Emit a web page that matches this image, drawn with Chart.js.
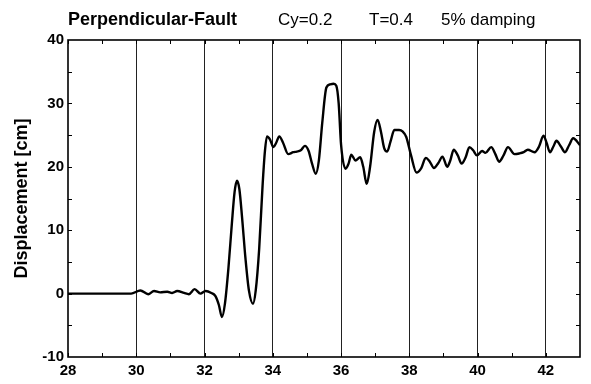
<!DOCTYPE html>
<html>
<head>
<meta charset="utf-8">
<script src="https://cdn.jsdelivr.net/npm/chart.js@4.4.0/dist/chart.umd.min.js"></script>
<style>
  html, body { margin: 0; padding: 0; background: #fff; }
  #wrap { width: 591px; height: 384px; }
</style>
</head>
<body>
<div id="wrap"><canvas id="chart" width="591" height="384"></canvas></div>
<script>
// time [s] and displacement [cm]
const timeSec = [
  28, 29, 29.85, 30.12, 30.35, 30.52, 30.7, 30.91, 31.05, 31.2,
  31.4, 31.54, 31.71, 31.88, 32.03, 32.2, 32.32, 32.42, 32.51, 32.6,
  32.7, 32.8, 32.88, 32.95, 33.02, 33.1, 33.2, 33.3, 33.42, 33.5,
  33.6, 33.7, 33.77, 33.83, 33.92, 34.02, 34.1, 34.19, 34.3, 34.45,
  34.6, 34.7, 34.82, 34.94, 35.05, 35.15, 35.26, 35.35, 35.45, 35.57,
  35.68, 35.78, 35.86, 35.93, 36.0, 36.13, 36.22, 36.3, 36.42, 36.56,
  36.65, 36.75, 36.85, 36.97, 37.07, 37.17, 37.26, 37.35, 37.45, 37.56,
  37.7, 37.8, 37.91, 38.05, 38.21, 38.35, 38.48, 38.6, 38.72, 38.85,
  38.97, 39.11, 39.2, 39.3, 39.42, 39.53, 39.65, 39.76, 39.87, 39.98,
  40.13, 40.23, 40.4, 40.52, 40.63, 40.76, 40.89, 41.08, 41.22, 41.35,
  41.47, 41.67, 41.8, 41.93, 42.02, 42.12, 42.22, 42.31, 42.44, 42.56,
  42.68, 42.8, 43.0
];
const displacementCm = [
  0, 0, 0, 0.5, -0.1, 0.4, 0.2, 0.3, 0.1, 0.4,
  0.1, -0.1, 0.7, 0, 0.4, 0.1, -0.4, -1.8, -3.7, -1.5,
  4, 11, 16, 17.8, 16.5, 12, 5.5, 0.5, -1.6, 0.5,
  7, 17, 22.5, 24.8, 24.3, 23.1, 23.8, 24.8, 23.8, 22.0,
  22.3, 22.4, 22.6, 23.3, 22.5, 20.5, 18.9, 21, 27, 32.5,
  33, 33.1, 32.8, 30, 23.5, 19.7, 20.5, 21.9, 21, 21.5,
  20, 17.3, 20, 25.5, 27.4, 25.5, 23, 22.4, 24, 25.8,
  25.8, 25.6, 24.7, 21.8, 19.1, 19.8, 21.4, 20.8, 19.8, 20.6,
  21.6, 20, 21, 22.7, 21.8, 20.5, 21.5, 23.1, 22.6, 21.8,
  22.5, 22.2, 23.1, 22, 20.8, 21.8, 23.1, 22, 22.1, 22.3,
  22.7, 22.3, 23.2, 24.9, 23.8, 22.3, 23.2, 24.1, 23.2, 22.3,
  23.4, 24.5, 23.4
];

const xTickValues = [28, 30, 32, 34, 36, 38, 40, 42];
const xTickLabels = ['28', '30', '32', '34', '36', '38', '40', '42'];
const xMinorTicks = [29, 31, 33, 35, 37, 39, 41];
const yMinorTicks = [-5, 5, 15, 25, 35];
const yLabel = 'Displacement [cm]';
const headerTexts = ['Perpendicular-Fault', 'Cy=0.2', 'T=0.4', '5% damping'];

const FONT = '"Liberation Sans", Arial, Helvetica, sans-serif';

// header line + frame + inward minor ticks
const decorations = {
  id: 'decorations',
  afterDraw(chart) {
    const ctx = chart.ctx;
    const area = chart.chartArea;
    const xs = chart.scales.x;
    const ys = chart.scales.y;
    ctx.save();

    ctx.fillStyle = '#000';
    ctx.textBaseline = 'alphabetic';
    ctx.textAlign = 'left';
    const headerX = [68, 278, 369, 441];
    headerTexts.forEach((t, i) => {
      ctx.font = (i === 0 ? 'bold 18px ' : '17px ') + FONT;
      ctx.fillText(t, headerX[i], 25);
    });

    ctx.strokeStyle = '#000';
    ctx.lineWidth = 1;
    ctx.beginPath();
    xMinorTicks.concat(xTickValues).forEach(v => {
      const px = Math.round(xs.getPixelForValue(v)) + 0.5;
      ctx.moveTo(px, area.bottom);
      ctx.lineTo(px, area.bottom - 4);
      ctx.moveTo(px, area.top);
      ctx.lineTo(px, area.top + 4);
    });
    yMinorTicks.concat([0, 10, 20, 30]).forEach(v => {
      const py = Math.round(ys.getPixelForValue(v)) + 0.5;
      ctx.moveTo(area.left, py);
      ctx.lineTo(area.left + 4, py);
      ctx.moveTo(area.right, py);
      ctx.lineTo(area.right - 4, py);
    });
    ctx.stroke();

    ctx.lineWidth = 1.6;
    ctx.strokeRect(area.left, area.top, area.right - area.left, area.bottom - area.top);
    ctx.restore();
  }
};

new Chart(document.getElementById('chart'), {
  type: 'line',
  data: {
    datasets: [{
      data: timeSec.map((t, i) => ({ x: t, y: displacementCm[i] })),
      borderColor: '#000',
      borderWidth: 2.4,
      pointRadius: 0,
      fill: false,
      cubicInterpolationMode: 'monotone'
    }]
  },
  options: {
    responsive: false,
    animation: false,
    layout: { padding: { top: 40, right: 11, left: 0, bottom: 0 } },
    plugins: {
      legend: { display: false },
      tooltip: { enabled: false },
      title: { display: false }
    },
    scales: {
      x: {
        type: 'linear',
        min: 28,
        max: 43,
        afterBuildTicks: (scale) => {
          scale.ticks = xTickValues.map(v => ({ value: v }));
        },
        afterFit: (scale) => { scale.height = 27; },
        ticks: {
          autoSkip: false,
          maxRotation: 0,
          padding: 5,
          color: '#000',
          font: { family: FONT, size: 15, weight: 'bold' },
          callback: (v) => xTickLabels[xTickValues.indexOf(v)]
        },
        grid: {
          drawTicks: false,
          lineWidth: 1,
          color: (ctx) => (ctx.tick && ctx.tick.value === 28) ? 'rgba(0,0,0,0)' : '#222'
        },
        border: { display: false }
      },
      y: {
        min: -10,
        max: 40,
        afterFit: (scale) => { scale.width = 68; },
        ticks: {
          stepSize: 10,
          padding: 4,
          color: '#000',
          font: { family: FONT, size: 15, weight: 'bold' }
        },
        grid: { display: false, drawTicks: false },
        border: { display: false },
        title: {
          display: true,
          text: yLabel,
          color: '#000',
          padding: { top: 11, bottom: 0 },
          font: { family: FONT, size: 18, weight: 'bold' }
        }
      }
    }
  },
  plugins: [decorations]
});
</script>
</body>
</html>
